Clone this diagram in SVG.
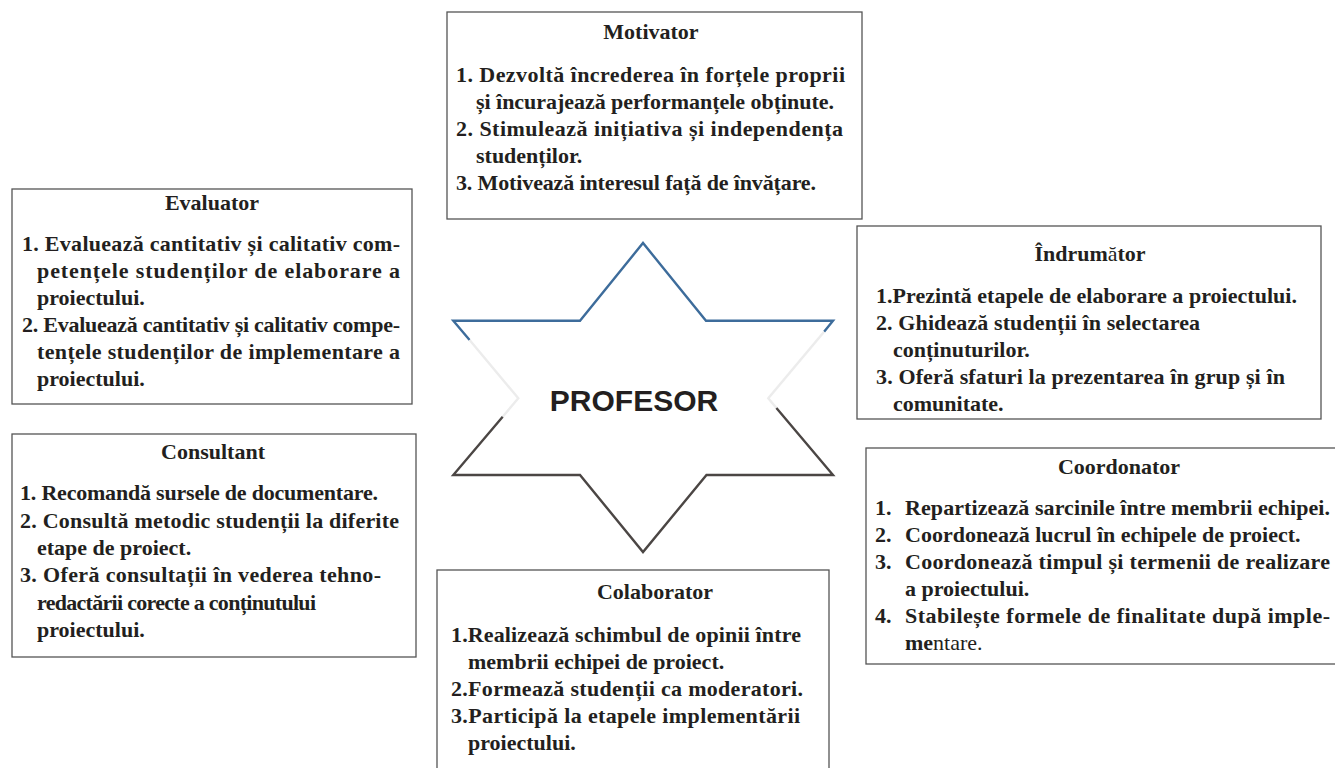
<svg xmlns="http://www.w3.org/2000/svg" width="1335" height="768" viewBox="0 0 1335 768">
<style>
.box{fill:#fff;stroke:#555;stroke-width:1.3}
.t{font-family:"Liberation Serif","Times New Roman",serif;font-weight:bold;font-size:22px;fill:#231f20}
.ttl{text-anchor:middle}
.n{font-weight:normal}
.star-b{fill:none;stroke:#3d6c9b;stroke-width:2.4;stroke-linejoin:miter}
.star-l{fill:none;stroke:#ececec;stroke-width:2.4}
.star-d{fill:none;stroke:#4b4644;stroke-width:2.4;stroke-linejoin:miter}
</style>
<rect width="1335" height="768" fill="#fff"/>
<g id="profesor">
<polygon points="643,243 706,320.7 833,320.7 768.3,398.3 833,475 706.5,475 643,552 580,475 453.3,475 518.3,398.3 453.3,320.7 580,320.7" fill="#fff" stroke="none"/>
<polyline class="star-b" points="469.6,340 453.3,320.7 580,320.7 643,243 706,320.7 833,320.7 824.1,331.7"/>
<polyline class="star-l" points="469.6,340 518.3,398.3 502.7,416.7"/>
<polyline class="star-l" points="824.1,331.7 768.3,398.3 776.4,408"/>
<polyline class="star-d" points="502.7,416.7 453.3,475 580,475 643,552 706.5,475 833,475 776.4,408"/>
<text x="634" y="411" text-anchor="middle" font-family="Liberation Sans, Arial, sans-serif" font-weight="bold" font-size="30" fill="#231f20">PROFESOR</text>
</g>
<g id="motivator">
<rect class="box" x="447" y="12" width="415" height="207"/>
<text class="t ttl" x="651" y="39">Motivator</text>
<text class="t" x="456" y="82" textLength="389" lengthAdjust="spacing">1. Dezvoltă încrederea în forțele proprii</text>
<text class="t" x="476" y="109" textLength="358" lengthAdjust="spacing">și încurajează performanțele obținute.</text>
<text class="t" x="456" y="136" textLength="387" lengthAdjust="spacing">2. Stimulează inițiativa și independența</text>
<text class="t" x="476" y="163">studenților.</text>
<text class="t" x="456" y="190" textLength="360" lengthAdjust="spacing">3. Motivează interesul față de învățare.</text>
</g>
<g id="evaluator">
<rect class="box" x="12" y="189" width="400" height="215"/>
<text class="t ttl" x="212" y="210">Evaluator</text>
<text class="t" x="22" y="251" textLength="378" lengthAdjust="spacing">1. Evaluează cantitativ și calitativ com-</text>
<text class="t" x="37" y="278" textLength="363" lengthAdjust="spacing">petențele studenților de elaborare a</text>
<text class="t" x="37" y="305">proiectului.</text>
<text class="t" x="22" y="332" textLength="378" lengthAdjust="spacing">2. Evaluează cantitativ și calitativ compe-</text>
<text class="t" x="37" y="359" textLength="363" lengthAdjust="spacing">tențele studenților de implementare a</text>
<text class="t" x="37" y="386">proiectului.</text>
</g>
<g id="consultant">
<rect class="box" x="12" y="434" width="404" height="223"/>
<text class="t ttl" x="213" y="459">Consultant</text>
<text class="t" x="20" y="500" textLength="358" lengthAdjust="spacing">1. Recomandă sursele de documentare.</text>
<text class="t" x="20" y="528" textLength="379" lengthAdjust="spacing">2. Consultă metodic studenții la diferite</text>
<text class="t" x="37" y="555">etape de proiect.</text>
<text class="t" x="20" y="582" textLength="361" lengthAdjust="spacing">3. Oferă consultații în vederea tehno-</text>
<text class="t" x="37" y="610" textLength="279" lengthAdjust="spacing">redactării corecte a conținutului</text>
<text class="t" x="37" y="637">proiectului.</text>
</g>
<g id="indrumator">
<rect class="box" x="857" y="226" width="464" height="193"/>
<text class="t ttl" x="1090" y="261">Îndrum<tspan class="n">ă</tspan>tor</text>
<text class="t" x="876" y="303" textLength="421" lengthAdjust="spacing">1.Prezintă etapele de elaborare a proiectului.</text>
<text class="t" x="876" y="330" textLength="324" lengthAdjust="spacing">2. Ghidează studenții în selectarea</text>
<text class="t" x="893" y="357">conținuturilor.</text>
<text class="t" x="876" y="384" textLength="409" lengthAdjust="spacing">3. Oferă sfaturi la prezentarea în grup și în</text>
<text class="t" x="893" y="411">comunitate.</text>
</g>
<g id="coordonator">
<rect class="box" x="866" y="448" width="480" height="216"/>
<text class="t ttl" x="1119" y="474">Coordonator</text>
<text class="t" x="875" y="515">1.</text>
<text class="t" x="905" y="515" textLength="425" lengthAdjust="spacing">Repartizează sarcinile între membrii echipei.</text>
<text class="t" x="875" y="542">2.</text>
<text class="t" x="905" y="542">Coordonează lucrul în echipele de proiect.</text>
<text class="t" x="875" y="569">3.</text>
<text class="t" x="905" y="569" textLength="425" lengthAdjust="spacing">Coordonează timpul și termenii de realizare</text>
<text class="t" x="905" y="596">a proiectului.</text>
<text class="t" x="875" y="623">4.</text>
<text class="t" x="905" y="623" textLength="425" lengthAdjust="spacing">Stabilește formele de finalitate după imple-</text>
<text class="t" x="905" y="650">me<tspan class="n">ntare.</tspan></text>
</g>
<g id="colaborator">
<rect class="box" x="437" y="570" width="392" height="210"/>
<text class="t ttl" x="655" y="599">Colaborator</text>
<text class="t" x="451" y="642" textLength="350" lengthAdjust="spacing">1.Realizează schimbul de opinii între</text>
<text class="t" x="468" y="669">membrii echipei de proiect.</text>
<text class="t" x="451" y="696" textLength="352" lengthAdjust="spacing">2.Formează studenții ca moderatori.</text>
<text class="t" x="451" y="723" textLength="349" lengthAdjust="spacing">3.Participă la etapele implementării</text>
<text class="t" x="468" y="750">proiectului.</text>
</g>
<g id="connectors"/>
</svg>
